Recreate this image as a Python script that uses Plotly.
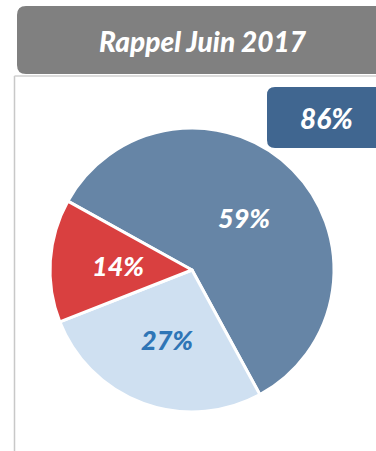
import math
import plotly.graph_objects as go

# Répartition des réponses
labels = ["Oui", "Non répondu", "Non"]
values = [59, 27, 14]
slice_colors = ["#6685A6", "#CFE0F1", "#D94040"]
text_colors = ["#FFFFFF", "#2E75B6", "#FFFFFF"]

title_text = "Rappel Juin 2017"
total_label = "86%"

W, H = 376, 451
FONT = "Lato"
WEIGHT = 900
START_ANGLE = -61  # degrees clockwise from 12 o'clock

# pie placement in pixels
CX, CY, R = 192, 270, 142


def px(x):
    return x / W


def py(y):
    return 1 - y / H


def rounded_left_box(x0, y0, x1, y1, r):
    # rectangle with rounded left corners, in paper coordinates
    rx, ry = r / W, r / H
    X0, X1 = px(x0), px(x1)
    Yt, Yb = py(y0), py(y1)
    return (f"M {X0 + rx} {Yt} L {X1} {Yt} L {X1} {Yb} L {X0 + rx} {Yb} "
            f"Q {X0} {Yb} {X0} {Yb + ry} L {X0} {Yt - ry} Q {X0} {Yt} {X0 + rx} {Yt} Z")


fig = go.Figure()
fig.add_trace(go.Pie(
    labels=labels,
    values=values,
    sort=False,
    direction="clockwise",
    rotation=START_ANGLE,
    marker=dict(colors=slice_colors, line=dict(color="#FFFFFF", width=3)),
    textinfo="none",
    hoverinfo="label+percent",
    showlegend=False,
    domain=dict(x=[px(CX - R), px(CX + R)], y=[py(CY + R), py(CY - R)]),
))

# slice labels, placed at the middle angle of each slice, about half-way out
annotations = []
total = sum(values)
acc = 0
for v, c in zip(values, text_colors):
    mid = math.radians(START_ANGLE + 360 * (acc + v / 2) / total)
    acc += v
    r = 0.52 * R
    x = CX + r * math.sin(mid)
    y = CY - r * math.cos(mid)
    annotations.append(dict(
        text=f"{v}%", x=px(x), y=py(y), xref="paper", yref="paper", showarrow=False,
        font=dict(family=FONT, size=27, color=c, weight=WEIGHT, style="italic"),
        xanchor="center", yanchor="middle"))

shapes = [
    # panel border (left and top edges)
    dict(type="line", xref="paper", yref="paper", x0=px(14.5), x1=px(14.5), y0=py(76), y1=py(452),
         line=dict(color="#C8C8C8", width=1.5)),
    dict(type="line", xref="paper", yref="paper", x0=px(14.5), x1=px(380), y0=py(76), y1=py(76),
         line=dict(color="#D0D0D0", width=1.5)),
    # header banner
    dict(type="path", xref="paper", yref="paper", path=rounded_left_box(17, 6, 380, 74, 9),
         fillcolor="#808080", line=dict(width=0), layer="below"),
    # total badge
    dict(type="path", xref="paper", yref="paper", path=rounded_left_box(267, 87, 380, 148, 8),
         fillcolor="#406690", line=dict(width=0), layer="below"),
]

annotations += [
    dict(text=title_text, x=px(203), y=py(41), xref="paper", yref="paper", showarrow=False,
         font=dict(family=FONT, size=28, color="#FFFFFF", weight=WEIGHT, style="italic"),
         xanchor="center", yanchor="middle"),
    dict(text=total_label, x=px(326), y=py(118), xref="paper", yref="paper", showarrow=False,
         font=dict(family=FONT, size=28, color="#FFFFFF", weight=WEIGHT, style="italic"),
         xanchor="center", yanchor="middle"),
]

fig.update_layout(
    width=W, height=H,
    margin=dict(l=0, r=0, t=0, b=0),
    paper_bgcolor="#FFFFFF",
    plot_bgcolor="#FFFFFF",
    shapes=shapes,
    annotations=annotations,
)

fig.write_html("out.html")
